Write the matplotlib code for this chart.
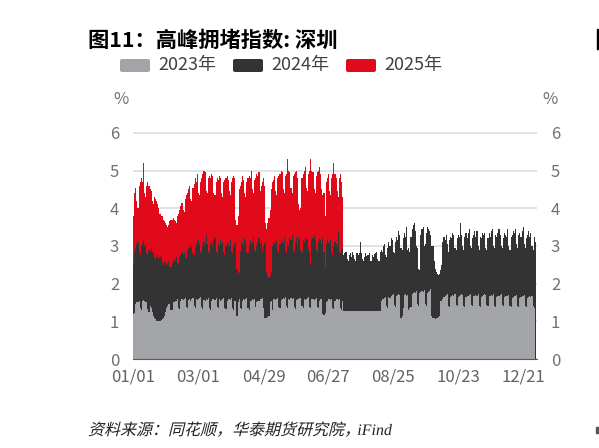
import matplotlib
matplotlib.use('Agg')
import matplotlib.pyplot as plt
import numpy as np
from matplotlib.patches import Rectangle, PathPatch, FancyBboxPatch
from matplotlib.textpath import TextPath
from matplotlib.font_manager import FontProperties
from matplotlib.transforms import Affine2D

plt.rcParams['font.family'] = ['Noto Sans CJK SC', 'DejaVu Sans']

title = '图11：高峰拥堵指数: 深圳'
source_cn = '资料来源：同花顺，华泰期货研究院，'
source_en = 'iFind'
series_names = ['2023年', '2024年', '2025年']
tick_days = [0, 59, 118, 177, 236, 295, 354]
tick_labels = ['01/01', '03/01', '04/29', '06/27', '08/25', '10/23', '12/21']

# daily peak congestion index, one row per week
cong_2023 = [
    1.20, 1.22, 1.45, 1.50, 1.52, 1.55, 1.35,
    1.30, 1.55, 1.57, 1.55, 1.52, 1.50, 1.32,
    1.25, 1.40, 1.35, 1.25, 1.15, 1.10, 1.05,
    1.02, 1.00, 1.00, 1.02, 1.03, 1.05, 1.08,
    1.15, 1.25, 1.35, 1.40, 1.45, 1.45, 1.30,
    1.30, 1.50, 1.52, 1.55, 1.55, 1.58, 1.35,
    1.32, 1.55, 1.58, 1.57, 1.60, 1.62, 1.38,
    1.35, 1.57, 1.60, 1.55, 1.58, 1.62, 1.40,
    1.35, 1.60, 1.57, 1.60, 1.62, 1.65, 1.38,
    1.32, 1.57, 1.55, 1.60, 1.57, 1.62, 1.35,
    1.30, 1.55, 1.58, 1.60, 1.57, 1.63, 1.38,
    1.35, 1.58, 1.55, 1.57, 1.60, 1.62, 1.36,
    1.32, 1.55, 1.58, 1.60, 1.57, 1.62, 1.35,
    1.30, 1.55, 1.55, 1.15, 1.50, 1.58, 1.35,
    1.32, 1.55, 1.58, 1.57, 1.60, 1.62, 1.35,
    1.30, 1.55, 1.55, 1.58, 1.57, 1.60, 1.38,
    1.50, 1.55, 1.55, 1.58, 1.60, 1.62, 1.35,
    1.10, 1.08, 1.10, 1.12, 1.15, 1.50, 1.55,
    1.30, 1.58, 1.60, 1.57, 1.60, 1.62, 1.38,
    1.35, 1.57, 1.60, 1.62, 1.60, 1.65, 1.40,
    1.35, 1.60, 1.57, 1.62, 1.60, 1.63, 1.38,
    1.32, 1.57, 1.60, 1.58, 1.62, 1.63, 1.40,
    1.35, 1.60, 1.57, 1.60, 1.62, 1.65, 1.38,
    1.35, 1.58, 1.60, 1.57, 1.60, 1.62, 1.38,
    1.35, 1.55, 1.58, 1.60, 1.20, 1.18, 1.22,
    1.50, 1.55, 1.58, 1.60, 1.57, 1.60, 1.36,
    1.32, 1.55, 1.58, 1.60, 1.57, 1.60, 1.35,
    1.30, 1.55, 1.28, 1.28, 1.28, 1.28, 1.28,
    1.28, 1.28, 1.28, 1.28, 1.28, 1.28, 1.28,
    1.28, 1.28, 1.28, 1.28, 1.28, 1.28, 1.28,
    1.28, 1.28, 1.28, 1.28, 1.28, 1.28, 1.28,
    1.28, 1.28, 1.28, 1.28, 1.28, 1.28, 1.28,
    1.28, 1.55, 1.60, 1.58, 1.62, 1.65, 1.40,
    1.35, 1.65, 1.62, 1.68, 1.70, 1.72, 1.42,
    1.38, 1.68, 1.70, 1.72, 1.70, 1.10, 1.15,
    1.35, 1.70, 1.72, 1.68, 1.70, 1.30, 1.35,
    1.38, 1.72, 1.75, 1.78, 1.75, 1.80, 1.45,
    1.40, 1.75, 1.78, 1.80, 1.78, 1.82, 1.45,
    1.40, 1.75, 1.78, 1.80, 1.85, 1.15, 1.10,
    1.08, 1.06, 1.08, 1.10, 1.12, 1.15, 1.55,
    1.55, 1.60, 1.65, 1.68, 1.70, 1.72, 1.40,
    1.38, 1.65, 1.68, 1.70, 1.68, 1.72, 1.42,
    1.40, 1.65, 1.68, 1.70, 1.72, 1.70, 1.40,
    1.38, 1.65, 1.68, 1.66, 1.70, 1.72, 1.42,
    1.40, 1.66, 1.68, 1.70, 1.68, 1.72, 1.40,
    1.38, 1.65, 1.68, 1.70, 1.72, 1.70, 1.42,
    1.40, 1.66, 1.68, 1.70, 1.68, 1.72, 1.40,
    1.38, 1.65, 1.66, 1.68, 1.70, 1.72, 1.42,
    1.40, 1.64, 1.66, 1.68, 1.66, 1.70, 1.40,
    1.38, 1.62, 1.65, 1.66, 1.68, 1.70, 1.40,
    1.38, 1.62, 1.65, 1.66, 1.68, 1.70, 1.40,
    1.38, 1.62, 1.64, 1.66, 1.65, 1.68, 1.40,
    1.35,
]

cong_2024 = [
    2.50, 2.85, 2.95, 3.05, 3.10, 2.85, 2.75,
    3.00, 3.05, 3.15, 3.00, 3.05, 2.80, 2.75,
    2.90, 2.85, 2.95, 2.80, 2.85, 2.70, 2.65,
    2.75, 2.70, 2.65, 2.70, 2.75, 2.55, 2.50,
    2.60, 2.55, 2.50, 2.55, 2.60, 2.45, 2.45,
    2.55, 2.60, 2.65, 2.60, 2.70, 2.50, 2.55,
    2.70, 2.75, 2.85, 2.75, 2.85, 2.65, 2.70,
    2.90, 2.95, 3.00, 2.95, 3.05, 2.80, 2.75,
    2.95, 3.05, 3.10, 3.15, 3.05, 2.85, 2.80,
    3.00, 3.10, 3.05, 3.30, 3.05, 2.85, 2.80,
    3.05, 3.10, 3.00, 3.15, 3.20, 2.85, 2.80,
    3.05, 3.00, 3.15, 3.05, 3.10, 2.85, 2.75,
    3.00, 3.10, 3.05, 3.00, 3.15, 2.85, 2.80,
    3.00, 3.05, 3.10, 2.40, 2.25, 2.30, 2.85,
    3.05, 3.10, 3.00, 3.20, 3.10, 2.85, 2.80,
    3.05, 3.15, 3.05, 3.10, 3.25, 2.90, 2.85,
    3.00, 3.10, 3.20, 3.05, 3.15, 2.85, 3.00,
    3.05, 3.10, 2.30, 2.20, 2.15, 2.20, 2.30,
    3.00, 3.10, 3.05, 3.15, 3.10, 2.90, 2.80,
    3.05, 3.15, 3.10, 3.05, 3.25, 2.90, 2.80,
    3.10, 3.00, 3.20, 3.15, 3.30, 2.90, 2.85,
    3.10, 3.20, 3.05, 3.25, 3.15, 2.90, 2.85,
    3.15, 3.10, 3.25, 3.15, 3.20, 2.90, 2.80,
    2.50, 3.15, 3.20, 3.30, 3.15, 2.90, 2.85,
    3.10, 3.20, 3.15, 3.05, 3.20, 2.85, 2.45,
    3.05, 3.15, 3.10, 3.05, 3.15, 2.85, 2.75,
    3.00, 3.10, 3.05, 3.00, 3.40, 2.85, 2.80,
    2.90, 2.95, 2.75, 2.80, 2.85, 2.65, 2.60,
    2.75, 2.80, 2.70, 2.85, 2.75, 2.65, 2.60,
    2.80, 2.75, 2.80, 3.10, 2.80, 2.65, 2.60,
    2.70, 2.80, 2.72, 2.75, 2.80, 2.60, 2.60,
    2.75, 2.70, 2.78, 2.80, 2.85, 2.65, 2.60,
    2.85, 2.90, 2.85, 3.00, 3.05, 2.75, 2.70,
    2.95, 3.10, 3.00, 3.20, 3.15, 2.85, 2.80,
    3.10, 3.25, 3.15, 3.40, 3.30, 2.95, 2.90,
    3.20, 3.35, 3.25, 3.50, 2.90, 2.95, 2.85,
    3.25, 3.45, 3.55, 3.60, 3.40, 3.00, 2.95,
    2.40, 2.35, 3.30, 3.45, 3.50, 3.00, 3.05,
    3.35, 3.50, 3.45, 3.40, 3.30, 3.00, 3.00,
    2.60, 2.40, 2.30, 2.25, 2.22, 2.25, 2.35,
    2.50, 3.10, 3.25, 3.15, 3.30, 3.05, 2.85,
    3.15, 3.25, 3.20, 3.35, 3.30, 2.95, 2.90,
    3.20, 3.30, 3.25, 3.60, 3.30, 3.00, 2.90,
    3.25, 3.35, 3.20, 3.35, 3.45, 3.00, 2.95,
    3.20, 3.30, 3.40, 3.25, 3.40, 3.00, 2.90,
    3.25, 3.20, 3.35, 3.30, 3.35, 2.95, 2.90,
    3.20, 3.35, 3.25, 3.40, 3.45, 3.00, 2.95,
    3.30, 3.25, 3.35, 3.45, 3.30, 3.00, 2.95,
    3.20, 3.35, 3.30, 3.25, 3.45, 3.00, 2.90,
    3.25, 3.30, 3.40, 3.35, 3.45, 3.05, 2.95,
    3.30, 3.35, 3.25, 3.40, 3.50, 3.05, 2.95,
    3.20, 3.30, 3.40, 3.25, 3.35, 3.00, 2.90,
    3.25, 3.10,
]

cong_2025 = [
    3.80, 4.40, 4.55, 4.20, 4.00, 4.60, 4.70,
    4.80, 4.70, 5.20, 4.40, 4.30, 4.60, 4.70,
    4.60, 4.50, 4.45, 4.20, 4.10, 4.30, 4.25,
    4.20, 4.10, 4.00, 3.85, 3.80, 3.80, 3.70,
    3.65, 3.60, 3.55, 3.50, 3.55, 3.65, 3.70,
    3.70, 3.75, 3.70, 3.65, 3.60, 3.80, 3.85,
    3.95, 4.05, 4.15, 3.95, 3.90, 4.25, 4.35,
    4.40, 4.50, 4.60, 4.25, 4.20, 4.55, 4.65,
    4.80, 4.70, 4.90, 4.40, 4.35, 4.70, 4.80,
    4.90, 5.00, 4.95, 4.45, 4.40, 4.80, 4.85,
    4.80, 4.90, 4.85, 4.40, 4.35, 4.70, 4.80,
    4.75, 4.85, 4.80, 4.40, 4.30, 4.70, 4.75,
    4.80, 4.85, 4.75, 4.45, 4.35, 4.70, 4.80,
    4.85, 4.80, 3.70, 3.55, 3.80, 4.50, 4.60,
    4.70, 4.85, 4.75, 4.40, 4.30, 4.70, 4.80,
    4.85, 4.80, 5.00, 4.50, 4.40, 4.75, 4.80,
    4.90, 4.85, 4.95, 4.45, 4.60, 4.70, 4.80,
    4.60, 3.60, 3.45, 3.60, 3.75, 3.95, 4.50,
    4.70, 4.75, 4.85, 4.45, 4.35, 4.80, 4.85,
    4.90, 5.00, 4.95, 4.50, 4.40, 4.85, 4.90,
    5.30, 5.00, 4.95, 4.55, 4.40, 4.85, 4.90,
    4.95, 5.00, 4.80, 4.10, 3.95, 4.00, 4.80,
    4.90, 5.00, 5.10, 4.55, 4.45, 4.90, 5.00,
    5.30, 5.00, 4.95, 4.50, 4.40, 4.85, 4.95,
    5.00, 5.10, 4.90, 4.50, 4.35, 4.40, 3.80,
    4.70, 4.80, 4.90, 4.45, 4.35, 4.80, 4.90,
    5.20, 4.90, 4.80, 4.45, 4.30, 4.80, 4.90,
    4.70, 4.30,
]

W, H = 599, 448
fig = plt.figure(figsize=(W / 100, H / 100), dpi=100)
ax = fig.add_axes([133 / W, 1 - 359 / H, 404 / W, 228 / H])

# back to front: 2025, 2024, 2023
layers = [(cong_2025, '#e10a1a', 2), (cong_2024, '#333333', 3), (cong_2023, '#a2a4a7', 4)]
for vals, col, z in layers:
    ax.bar(np.arange(len(vals)), vals, width=1.0, color=col, linewidth=0, zorder=z)

ax.set_xlim(-0.5, 366.5)
ax.set_ylim(0, 6.05)
ax.set_yticks(range(7))
ax.set_xticks(tick_days, tick_labels)
ax.grid(axis='y', color='#d9dde6', linewidth=1.2)
ax.grid(axis='x', visible=False)
ax.set_axisbelow(True)
for s in ['top', 'left', 'right']:
    ax.spines[s].set_visible(False)
ax.spines['bottom'].set_color('#595959')
ax.spines['bottom'].set_zorder(6)
ax.tick_params(axis='y', length=0, labelleft=True, labelright=True, labelsize=12,
               labelcolor='#707078', pad=10)
ax.tick_params(axis='x', length=0, labelsize=12, labelcolor='#626262', pad=7)

fig.text(121 / W, 1 - 99 / H, '%', ha='center', va='center', fontsize=12, color='#707078')
fig.text(550 / W, 1 - 99 / H, '%', ha='center', va='center', fontsize=12, color='#707078')

fig.text(88 / W, 1 - 40 / H, title, ha='left', va='center', fontsize=15.3,
         fontweight='bold', color='black')

# legend with slightly rounded swatches
colors = ['#a2a4a7', '#333333', '#e10a1a']
for x0, name, col in zip([120, 233, 346], series_names, colors):
    fig.add_artist(FancyBboxPatch((x0 / W, 1 - 72 / H), 30 / W, 13 / H,
                                  boxstyle='round,pad=0,rounding_size=0.004',
                                  transform=fig.transFigure, color=col, linewidth=0))
    fig.text((x0 + 38) / W, 1 - 65 / H, name, ha='left', va='center', fontsize=13,
             color='#404040')

# source note, slanted like the original
cn_path = TextPath((0, 0), source_cn, size=16, prop=FontProperties(family='Noto Sans CJK SC'))
fig.add_artist(PathPatch(cn_path, transform=Affine2D().skew_deg(14, 0).translate(88, 13),
                         color='#222222', linewidth=0))
x_en = 88 + cn_path.get_extents().x1 + 8
en_path = TextPath((0, 0), source_en, size=16,
                   prop=FontProperties(family='Liberation Serif', style='italic'))
fig.add_artist(PathPatch(en_path, transform=Affine2D().translate(x_en, 13),
                         color='#222222', linewidth=0))

# edge of the neighbouring chart
fig.add_artist(Rectangle((597 / W, 1 - 49 / H), 2 / W, 20 / H, transform=fig.transFigure,
                         color='black'))
fig.add_artist(Rectangle((596 / W, 1 - 433 / H), 3 / W, 6 / H, transform=fig.transFigure,
                         color='#555555'))

fig.savefig('out.png', dpi=100)
